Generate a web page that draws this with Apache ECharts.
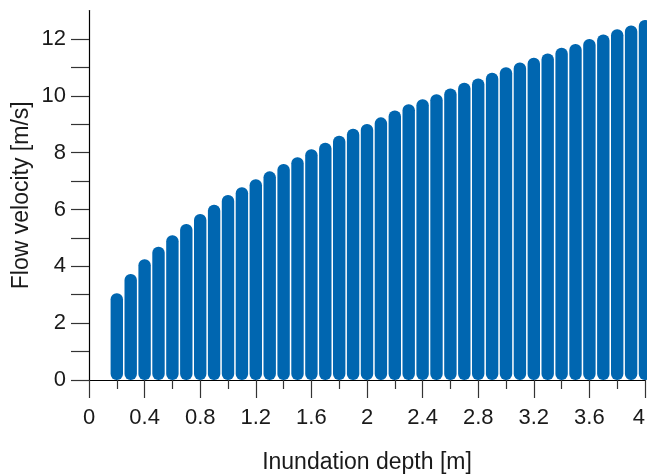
<!DOCTYPE html>
<html>
<head>
<meta charset="utf-8">
<script src="https://cdn.jsdelivr.net/npm/echarts@6/dist/echarts.min.js"></script>
<style>
  html, body { margin: 0; padding: 0; background: #fff; }
  #chart { width: 647px; height: 474px; }
</style>
</head>
<body>
<div id="chart"></div>
<script>
// Inundation depth [m] for each column
const depth = [0.2, 0.3, 0.4, 0.5, 0.6, 0.7, 0.8, 0.9, 1.0, 1.1, 1.2, 1.3, 1.4,
  1.5, 1.6, 1.7, 1.8, 1.9, 2.0, 2.1, 2.2, 2.3, 2.4, 2.5, 2.6, 2.7, 2.8, 2.9,
  3.0, 3.1, 3.2, 3.3, 3.4, 3.5, 3.6, 3.7, 3.8, 3.9, 4.0];
// Upper flow velocity [m/s] reached at each depth
const velocity = [3.05, 3.73, 4.25, 4.69, 5.09, 5.49, 5.84, 6.17, 6.51, 6.78,
  7.06, 7.34, 7.60, 7.84, 8.12, 8.35, 8.59, 8.84, 9.01, 9.24, 9.48, 9.70,
  9.88, 10.05, 10.26, 10.46, 10.61, 10.81, 11.00, 11.17, 11.34, 11.49, 11.69,
  11.82, 12.00, 12.16, 12.34, 12.47, 12.67];
const yTicks = [0, 1, 2, 3, 4, 5, 6, 7, 8, 9, 10, 11, 12];
const yLabels = [0, 2, 4, 6, 8, 10, 12];

const font = "'Liberation Sans', Arial, sans-serif";
const ink = '#1a1a1a';

const chart = echarts.init(document.getElementById('chart'), null, { renderer: 'canvas' });
chart.setOption({
  animation: false,
  backgroundColor: '#ffffff',
  grid: { left: 89, right: 2, top: 10.5, bottom: 94, containLabel: false, outerBoundsMode: 'none' },
  xAxis: {
    type: 'value',
    min: 0, max: 4, interval: 0.4,
    name: 'Inundation depth [m]',
    nameLocation: 'middle',
    nameGap: 71,
    nameMoveOverlap: false,
    nameTextStyle: { fontFamily: font, fontSize: 23, color: ink },
    axisLine: { show: true, onZero: false, lineStyle: { color: '#000', width: 1.2 } },
    axisTick: { show: true, inside: false, length: 18, lineStyle: { color: '#333', width: 1.2 } },
    minorTick: { show: true, splitNumber: 2, length: 9, lineStyle: { color: '#333', width: 1.2 } },
    splitLine: { show: false },
    minorSplitLine: { show: false },
    axisLabel: { fontFamily: font, fontSize: 22, color: ink, margin: 27, alignMaxLabel: 'right' }
  },
  yAxis: {
    type: 'value',
    min: 0, max: 13, interval: 1,
    name: 'Flow velocity [m/s]',
    nameLocation: 'middle',
    nameGap: 56,
    nameMoveOverlap: false,
    nameRotate: 90,
    nameTextStyle: { fontFamily: font, fontSize: 23, color: ink },
    axisLine: { show: true, lineStyle: { color: '#000', width: 1.2 } },
    axisTick: { show: true, inside: false, length: 18, customValues: yTicks,
      lineStyle: { color: '#333', width: 1.2 } },
    splitLine: { show: false },
    axisLabel: {
      fontFamily: font, fontSize: 22, color: ink, margin: 23,
      customValues: yLabels,
      formatter: v => (yLabels.indexOf(v) >= 0 ? String(v) : '')
    }
  },
  series: [{
    type: 'bar',
    data: depth.map((d, i) => [d, velocity[i]]),
    barWidth: 12.4,
    clip: false,
    itemStyle: {
      color: '#0066b0',
      borderRadius: 6
    }
  }]
});
</script>
</body>
</html>
